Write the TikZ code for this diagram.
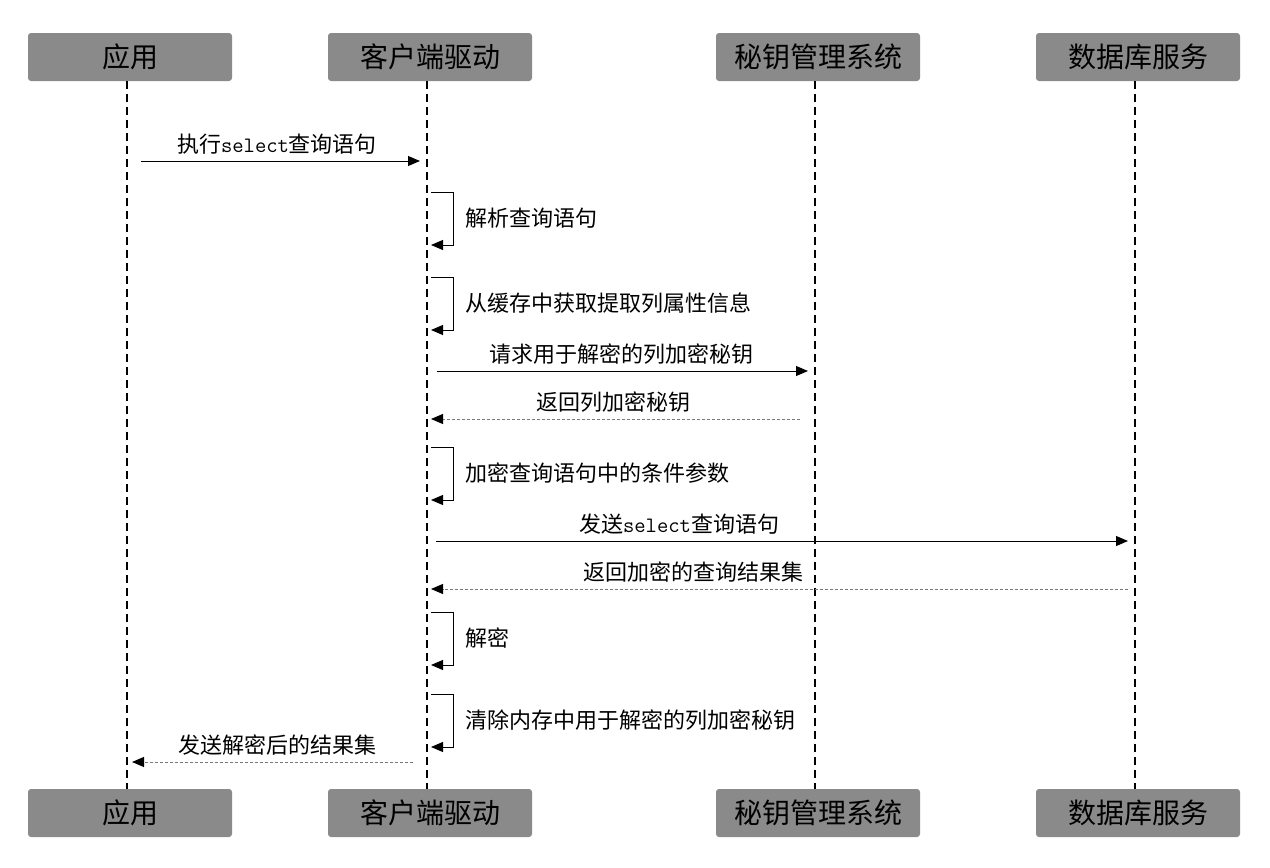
\documentclass[tikz,border=0pt]{standalone}
\usepackage{fontspec}
\newfontfamily\cjk{Noto Sans CJK SC}
\usetikzlibrary{arrows.meta}
\definecolor{boxgray}{RGB}{138,138,138}
\definecolor{replygray}{RGB}{120,120,120}

\begin{document}
\begin{tikzpicture}[x=0.5pt, y=-0.5pt,
        actor/.style={fill=boxgray, rounded corners=1.5pt, minimum width=102pt, minimum height=24pt, inner sep=0pt, font=\cjk\fontsize{14}{16}\selectfont},
        lifeline/.style={line width=1pt, dash pattern=on 4pt off 2.5pt},
        msg/.style={line width=0.5pt, -{Triangle[length=6pt,width=5pt]}},
        reply/.style={replygray, line width=0.5pt, dash pattern=on 1.5pt off 1pt, -{Triangle[length=6pt,width=5pt,color=black]}},
        selfcall/.style={line width=0.5pt, -{Triangle[length=6pt,width=5pt]}},
        txt/.style={font=\cjk\fontsize{11}{13}\selectfont, inner sep=2pt, text=black}]
        \useasboundingbox (0,0) rectangle (1270,868);

        % participants, top and bottom
        \node[actor] (app) at (130,57) {应用};
        \node[actor] (cli) at (430,57) {客户端驱动};
        \node[actor] (kms) at (818,57) {秘钥管理系统};
        \node[actor] (db) at (1138,57) {数据库服务};
        \node[actor] (app-b) at (130,813) {应用};
        \node[actor] (cli-b) at (430,813) {客户端驱动};
        \node[actor] (kms-b) at (818,813) {秘钥管理系统};
        \node[actor] (db-b) at (1138,813) {数据库服务};

        % lifelines sit a little left of the box centres
        \foreach \a in {app,cli,kms,db} {
            \coordinate (\a-l) at ([xshift=-1.5pt]\a.south);
            \draw[lifeline] (\a-l) -- ([xshift=-1.5pt]\a-b.north);
        }

        % messages
        \draw[msg, shorten <=7pt, shorten >=3.5pt] (app-l |- 0,161) -- (cli-l |- 0,161)
            node[txt, midway, above=1pt] (m1) {执行\texttt{select}查询语句};
        \draw[selfcall] ([xshift=2pt]cli-l |- 0,192) -- ++(22,0) -- ++(0,53)
            node[txt, midway, right=4pt] (s1) {解析查询语句} -- ++(-22,0);
        \draw[selfcall] ([xshift=2pt]cli-l |- 0,277) -- ++(22,0) -- ++(0,53)
            node[txt, midway, right=4pt] (s2) {从缓存中获取提取列属性信息} -- ++(-22,0);
        \draw[msg, shorten <=5pt, shorten >=3.5pt] (cli-l |- 0,371) -- (kms-l |- 0,371)
            node[txt, midway, above=1pt] (m2) {请求用于解密的列加密秘钥};
        \draw[reply, shorten <=7.5pt, shorten >=2pt] (kms-l |- 0,419) -- (cli-l |- 0,419)
            node[txt, pos=0.52, above=1pt] (m3) {返回列加密秘钥};
        \draw[selfcall] ([xshift=2pt]cli-l |- 0,447) -- ++(22,0) -- ++(0,53)
            node[txt, midway, right=4pt] (s3) {加密查询语句中的条件参数} -- ++(-22,0);
        \draw[msg, shorten <=4.5pt, shorten >=3.5pt] (cli-l |- 0,541) -- (db-l |- 0,541)
            node[txt, pos=0.356, above=1pt] (m4) {发送\texttt{select}查询语句};
        \draw[reply, shorten <=3.5pt, shorten >=2pt] (db-l |- 0,589) -- (cli-l |- 0,589)
            node[txt, pos=0.623, above=1pt] (m5) {返回加密的查询结果集};
        \draw[selfcall] ([xshift=2pt]cli-l |- 0,612) -- ++(22,0) -- ++(0,53)
            node[txt, midway, right=4pt] (s4) {解密} -- ++(-22,0);
        \draw[selfcall] ([xshift=2pt]cli-l |- 0,694) -- ++(22,0) -- ++(0,53)
            node[txt, midway, right=4pt] (s5) {清除内存中用于解密的列加密秘钥} -- ++(-22,0);
        \draw[reply, shorten <=7pt, shorten >=2.5pt] (cli-l |- 0,762) -- (app-l |- 0,762)
            node[txt, midway, above=1pt] (m6) {发送解密后的结果集};
    \end{tikzpicture}
\end{document}
